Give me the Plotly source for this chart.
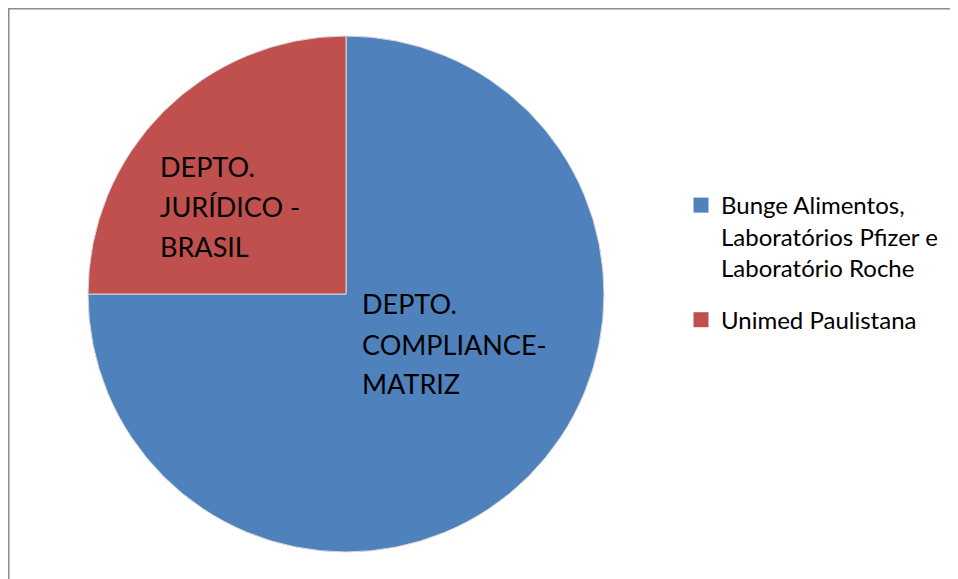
import plotly.graph_objects as go

# page body adds an 8px offset, so the figure is 8px smaller than the window
W, H = 950, 571
OFF = 8

categories = ["Bunge Alimentos,<br>Laboratórios Pfizer e<br>Laboratório Roche", "Unimed Paulistana"]
values = [75, 25]
slice_label_lines = [["DEPTO.", "COMPLIANCE-", "MATRIZ"], ["DEPTO.", "JURÍDICO -", "BRASIL"]]
colors = ["#4F81BD", "#C0504D"]

FONT = "Lato"

def px_x(x):
    return (x - OFF) / W

def px_y(y):
    return 1 - (y - OFF) / H

fig = go.Figure(go.Pie(
    labels=categories,
    values=values,
    sort=False,
    direction="clockwise",
    rotation=0,
    marker=dict(colors=colors, line=dict(color="#d9d9d9", width=1)),
    textinfo="none",
    hoverinfo="label+percent",
    showlegend=False,
    domain=dict(x=[px_x(88), px_x(604)], y=[px_y(552), px_y(36)]),
))

# legend entries (square swatches, one legend group per category for spacing)
for name, col in zip(categories, colors):
    fig.add_trace(go.Scatter(
        x=[None], y=[None], mode="markers", name=name, legendgroup=name,
        marker=dict(symbol="square", size=15, color=col),
        hoverinfo="skip",
    ))

# slice labels: left-aligned blocks, one annotation per line (screen px of first line cap-centre)
label_pos = [(360, 304), (158, 166.5)]
LINE_GAP = 40
for lines, (sx, sy) in zip(slice_label_lines, label_pos):
    for i, line in enumerate(lines):
        fig.add_annotation(
            text=line, x=px_x(sx), y=px_y(sy + i * LINE_GAP), xref="paper", yref="paper",
            xanchor="left", yanchor="middle", align="left", showarrow=False,
            font=dict(family=FONT, size=27, color="#000000"),
        )

fig.add_shape(type="rect", xref="paper", yref="paper",
              x0=px_x(8.5), x1=1.05, y0=-0.05, y1=1 - 0.5 / H,
              line=dict(color="#8c8c8c", width=2), fillcolor="rgba(0,0,0,0)")

fig.update_xaxes(visible=False)
fig.update_yaxes(visible=False)
fig.update_layout(
    width=W, height=H,
    margin=dict(l=0, r=0, t=0, b=0),
    paper_bgcolor="white",
    plot_bgcolor="white",
    font=dict(family=FONT, size=24, color="#000000"),
    legend=dict(x=px_x(681), y=px_y(183), xanchor="left", yanchor="top",
                valign="top", tracegroupgap=18, itemsizing="trace",
                font=dict(family=FONT, size=24, color="#000000")),
    showlegend=True,
)

fig.write_html("out.html")
